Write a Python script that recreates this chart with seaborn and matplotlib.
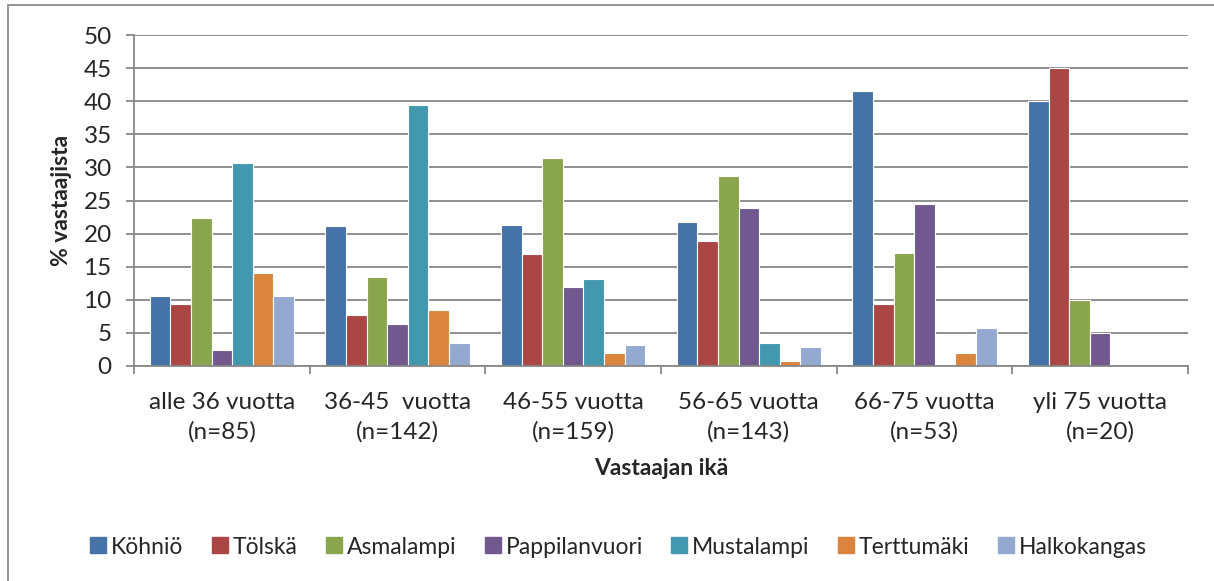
import numpy as np
import pandas as pd
import matplotlib
matplotlib.use("Agg")
import matplotlib.pyplot as plt
from matplotlib.patches import Rectangle
from matplotlib.lines import Line2D
import seaborn as sns

# data
age_groups = [
    "alle 36 vuotta\n(n=85)",
    "36-45  vuotta\n(n=142)",
    "46-55 vuotta\n(n=159)",
    "56-65 vuotta\n(n=143)",
    "66-75 vuotta\n(n=53)",
    "yli 75 vuotta\n(n=20)",
]
areas = ["Köhniö", "Tölskä", "Asmalampi", "Pappilanvuori",
         "Mustalampi", "Terttumäki", "Halkokangas"]

kohnio = [10.6, 21.2, 21.3, 21.7, 41.5, 40.0]
tolska = [9.4, 7.7, 16.9, 18.9, 9.4, 45.0]
asmalampi = [22.4, 13.4, 31.4, 28.7, 17.0, 10.0]
pappilanvuori = [2.4, 6.3, 11.9, 23.8, 24.5, 5.0]
mustalampi = [30.6, 39.4, 13.2, 3.5, 0.0, 0.0]
terttumaki = [14.1, 8.5, 1.9, 0.7, 1.9, 0.0]
halkokangas = [10.6, 3.5, 3.1, 2.8, 5.7, 0.0]

colors = ["#4572A7", "#AA4643", "#89A54E", "#71588F",
          "#4198AF", "#DB843D", "#93A9CF"]

series = [kohnio, tolska, asmalampi, pappilanvuori,
          mustalampi, terttumaki, halkokangas]
rows = []
for name, vals in zip(areas, series):
    for grp, v in zip(age_groups, vals):
        rows.append({"ika": grp, "alue": name, "pct": v})
df = pd.DataFrame(rows)

sns.set_theme(style="white")
plt.rcParams["font.family"] = ["Lato", "DejaVu Sans"]

fig = plt.figure(figsize=(12.14, 5.81), dpi=100)
ax = fig.add_axes([134 / 1214, 1 - 366 / 581, (1188 - 134) / 1214, (366 - 35) / 581])

sns.barplot(data=df, x="ika", y="pct", hue="alue", hue_order=areas,
            order=age_groups, palette=colors, saturation=1, width=0.82, gap=0,
            edgecolor="white", linewidth=0.8, ax=ax, legend=False)

grid_c = "#878787"
ax.set_ylim(0, 50)
ax.set_xlim(-0.5, len(age_groups) - 0.5)
ax.set_yticks(np.arange(0, 51, 5))
ax.yaxis.grid(True, color=grid_c, linewidth=1.3)
ax.set_axisbelow(True)
for side in ["top", "right"]:
    ax.spines[side].set_visible(False)
for side in ["left", "bottom"]:
    ax.spines[side].set_color(grid_c)
    ax.spines[side].set_linewidth(1.3)

ax.tick_params(axis="y", which="major", direction="out", length=6, width=1.3,
               color=grid_c, pad=10, labelsize=17.5, left=True)
ax.tick_params(axis="x", which="major", length=0, pad=18.5, labelsize=17.5)
ax.set_xticks(np.arange(-0.5, len(age_groups), 1), minor=True)
ax.tick_params(axis="x", which="minor", direction="out", length=6, width=1.3,
               color=grid_c, bottom=True)
for lbl in ax.get_xticklabels():
    lbl.set_linespacing(1.5)

ax.set_xlabel("Vastaajan ikä", fontsize=16.5, fontweight="bold", labelpad=11)
ax.set_ylabel("% vastaajista", fontsize=16.5, fontweight="bold", labelpad=8)

handles = [Line2D([], [], marker="s", linestyle="none", markersize=11,
                  markerfacecolor=c, markeredgecolor=c) for c in colors]
fig.legend(handles, areas, loc="center", bbox_to_anchor=(0.508, 1 - 547 / 581),
           ncol=7, frameon=False, fontsize=16.5, handletextpad=0.05,
           columnspacing=1.1, handlelength=1.0)

# chart area border (only top/left edges visible in the crop)
fig.patches.append(Rectangle((8 / 1214, -0.05), 1.1, 1 - 5 / 581 + 0.05,
                             transform=fig.transFigure, fill=False,
                             edgecolor="#8c8c8c", linewidth=1.3))

fig.savefig("out.png", dpi=100)
